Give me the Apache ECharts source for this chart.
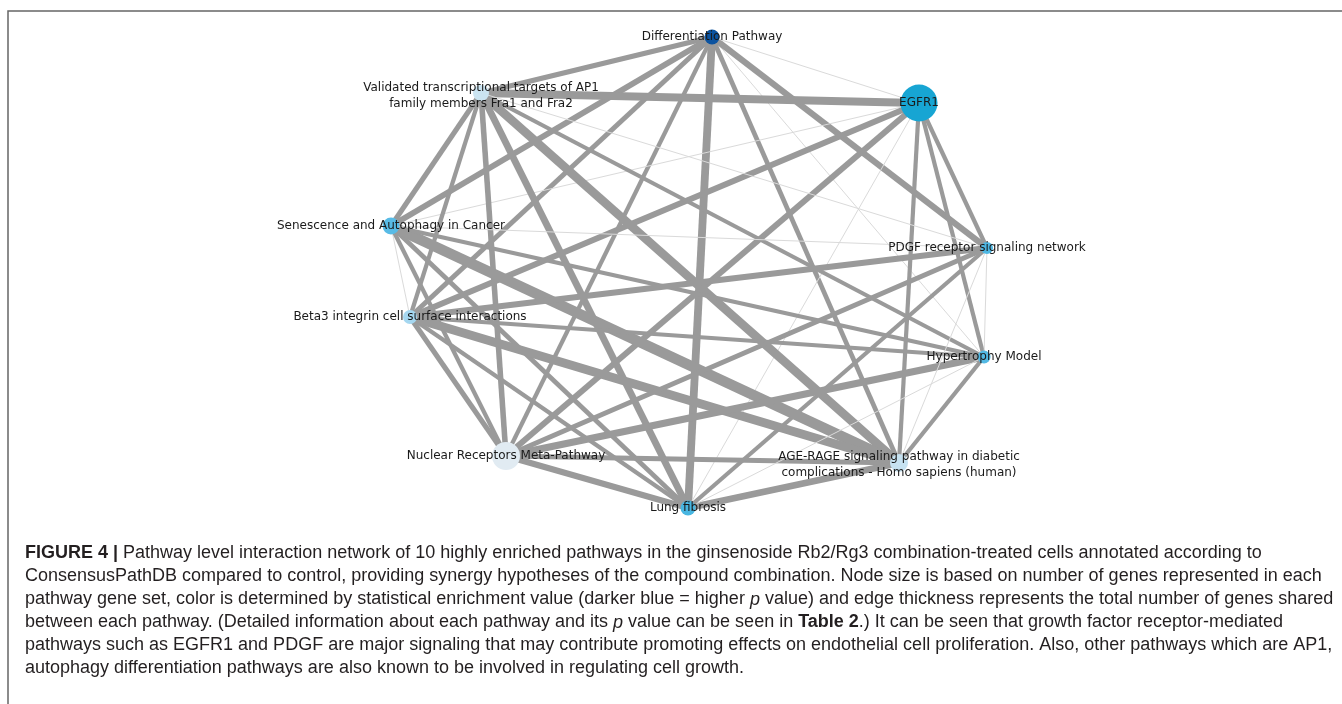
<!DOCTYPE html>
<html>
<head>
<meta charset="utf-8">
<title>Pathway interaction network</title>
<script src="https://cdn.jsdelivr.net/npm/echarts@6/dist/echarts.min.js"></script>
<style>
  html, body { margin: 0; padding: 0; background: #fff; }
  #chart { width: 1342px; height: 704px; }
</style>
</head>
<body>
<div id="chart"></div>
<script>
// pathways (nodes)
const pathways = [
  'Differentiation Pathway',
  'EGFR1',
  'PDGF receptor signaling network',
  'Hypertrophy Model',
  'AGE-RAGE signaling pathway in diabetic\ncomplications - Homo sapiens (human)',
  'Lung fibrosis',
  'Nuclear Receptors Meta-Pathway',
  'Beta3 integrin cell surface interactions',
  'Senescence and Autophagy in Cancer',
  'Validated transcriptional targets of AP1\nfamily members Fra1 and Fra2'
]
// layout position
const layoutX = [712, 919, 987, 984, 899, 688, 506, 410, 391, 481]
const layoutY = [37, 103, 248, 357, 463, 508, 456, 317, 226, 93]
// number of genes in each pathway set (node size)
const geneCount = [75, 185, 60, 65, 90, 75, 140, 70, 85, 80]
// normalised enrichment score (node colour)
const enrichment = [1.0, 0.75, 0.54, 0.52, 0.13, 0.56, 0.02, 0.26, 0.5, 0.11]

// shared genes between pathways: [source, target, shared]
const shared = [
  [0, 9, 8], [0, 8, 10], [0, 7, 8], [0, 6, 6], [0, 5, 14], [0, 4, 7],
  [0, 3, 2], [0, 2, 10], [0, 1, 2],
  [1, 9, 15], [1, 8, 2], [1, 7, 10], [1, 6, 10], [1, 5, 2], [1, 4, 6],
  [1, 3, 6], [1, 2, 6],
  [9, 8, 8], [9, 7, 6], [9, 6, 9], [9, 5, 12], [9, 4, 16], [9, 3, 6], [9, 2, 2],
  [8, 7, 2], [8, 6, 6], [8, 5, 7], [8, 4, 20], [8, 3, 6], [8, 2, 2],
  [7, 6, 8], [7, 5, 6], [7, 4, 16], [7, 3, 6], [7, 2, 10],
  [6, 5, 10], [6, 4, 8], [6, 3, 12], [6, 2, 8],
  [5, 4, 12], [5, 3, 2], [5, 2, 6],
  [4, 3, 6], [4, 2, 2],
  [3, 2, 2]
]

const blues = ['#e6edf2', '#a8d8f0', '#58bbe6', '#17a5d3', '#0b53a0']

const labelOffsets = { 9: [0, 3], 4: [0, 2] }

const nodes = pathways.map((name, i) => ({
  name: name,
  value: [layoutX[i], layoutY[i]],
  symbolSize: geneCount[i] / 5,
  itemStyle: { color: echarts.color.lerp(enrichment[i], blues) },
  label: labelOffsets[i] ? { offset: labelOffsets[i] } : {}
}))

const links = shared.map(([s, t, n]) => ({
  source: pathways[s],
  target: pathways[t],
  lineStyle: {
    width: n <= 2 ? 1 : 1.5 + n * 0.45,
    color: n <= 2 ? '#dadada' : '#9a9a9a',
    opacity: 1
  }
}))

const caption =
  '{b|FIGURE 4 |} Pathway level interaction network of 10 highly enriched pathways in the ginsenoside Rb2/Rg3 combination-treated cells annotated according to\n' +
  'ConsensusPathDB compared to control, providing synergy hypotheses of the compound combination. Node size is based on number of genes represented in each\n' +
  'pathway gene set, color is determined by statistical enrichment value (darker blue = higher {i|p} value) and edge thickness represents the total number of genes shared\n' +
  'between each pathway. (Detailed information about each pathway and its {i|p} value can be seen in {b|Table 2}.) It can be seen that growth factor receptor-mediated\n' +
  'pathways such as EGFR1 and PDGF are major signaling that may contribute promoting effects on endothelial cell proliferation. Also, other pathways which are AP1,\n' +
  'autophagy differentiation pathways are also known to be involved in regulating cell growth.'

const capFont = { fontSize: 18, fontFamily: 'Liberation Sans', lineHeight: 23, fill: '#231f20' }

const myChart = echarts.init(document.getElementById('chart'))
myChart.setOption({
  animation: false,
  backgroundColor: '#fff',
  grid: { left: 0, right: 0, top: 0, bottom: 0 },
  xAxis: { type: 'value', min: 0, max: 1342, show: false },
  yAxis: { type: 'value', min: 0, max: 704, inverse: true, show: false },
  graphic: [
    {
      type: 'polyline',
      shape: { points: [[8, 704], [8, 11], [1342, 11]] },
      style: { stroke: '#666', lineWidth: 1.5, fill: null }
    },
    {
      type: 'text',
      left: 25,
      top: 542,
      style: Object.assign({}, capFont, {
        text: caption,
        rich: {
          b: Object.assign({}, capFont, { fontWeight: 'bold' }),
          i: Object.assign({}, capFont, { fontStyle: 'italic' })
        }
      })
    }
  ],
  series: [{
    type: 'graph',
    coordinateSystem: 'cartesian2d',
    layout: 'none',
    data: nodes,
    links: links,
    symbol: 'circle',
    label: {
      show: true,
      position: 'inside',
      color: '#1a1a1a',
      fontFamily: 'DejaVu Sans',
      fontSize: 12,
      lineHeight: 16
    },
    emphasis: { disabled: true },
    z: 2
  }]
})
window.addEventListener('resize', () => myChart.resize(), false)
</script>
</body>
</html>
